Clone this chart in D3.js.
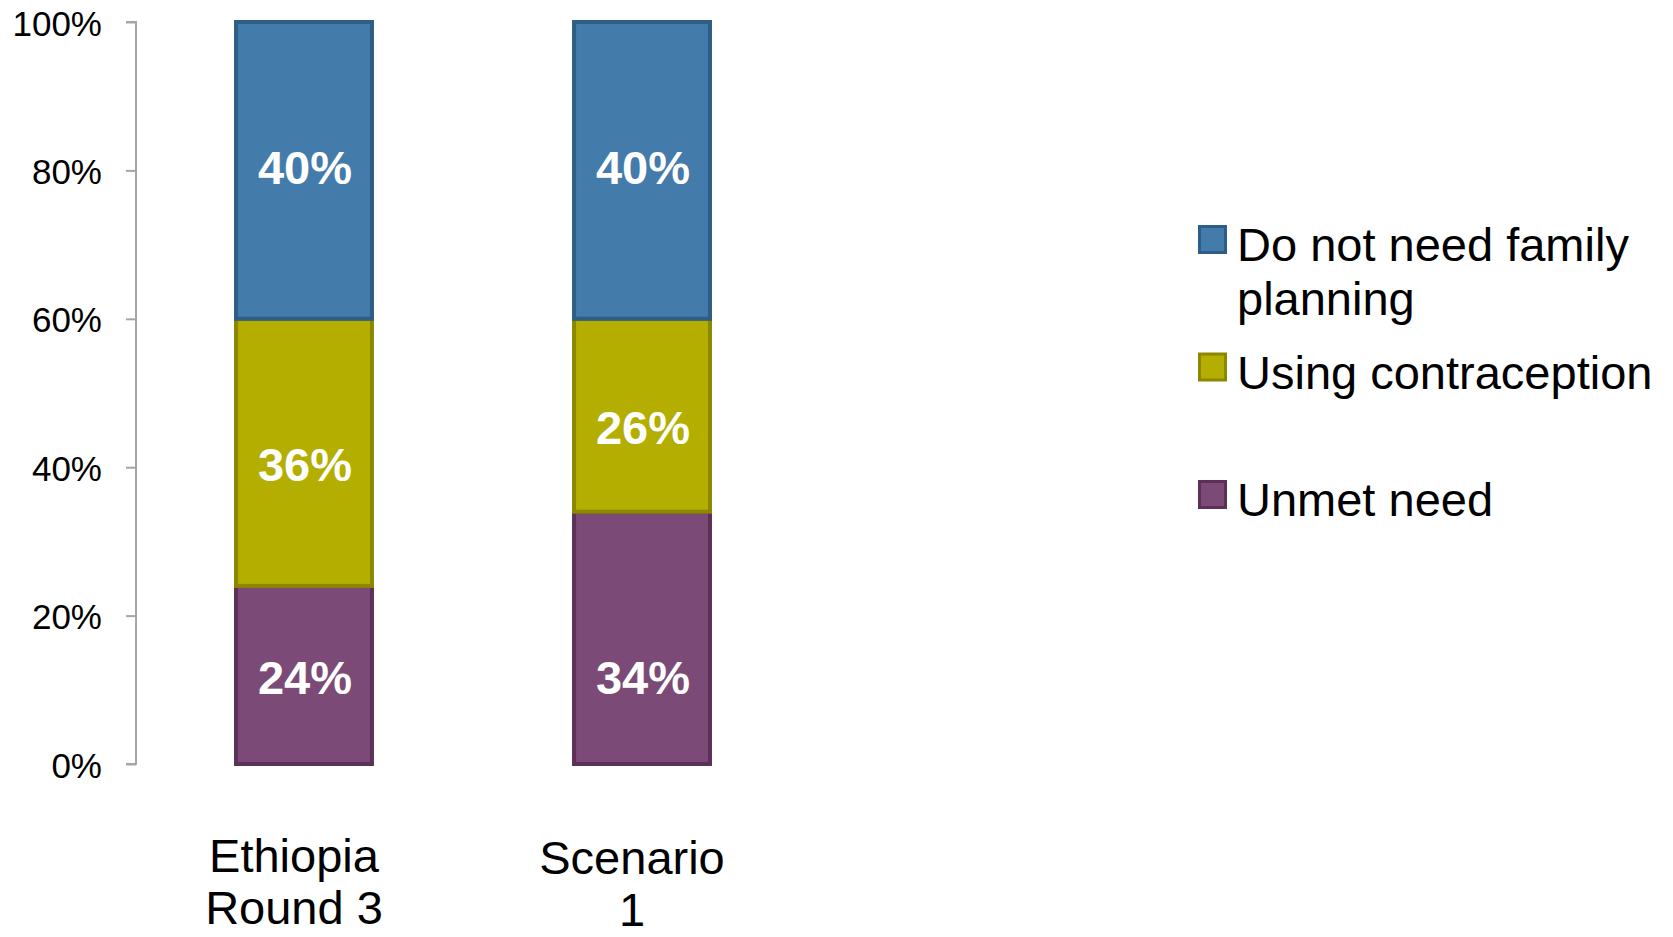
<!DOCTYPE html>
<html>
<head>
<meta charset="utf-8">
<script src="https://cdn.jsdelivr.net/npm/d3@7"></script>
<style>
  html, body { margin: 0; padding: 0; background: #fff; }
  svg { display: block; }
  text { font-family: "Liberation Sans", Arial, sans-serif; }
</style>
</head>
<body>
<svg id="chart" width="1673" height="937"></svg>
<script>
// ---- data ----
const categories = [["Ethiopia", "Round 3"], ["Scenario", "1"]];
const categoryKeys = ["Ethiopia Round 3", "Scenario 1"];
const seriesNames = ["Unmet need", "Using contraception", "Do not need family planning"];
const unmetNeed = [0.24, 0.34];
const usingContraception = [0.36, 0.26];
const doNotNeed = [0.40, 0.40];
const yTicks = [0, 0.2, 0.4, 0.6, 0.8, 1.0];
const legendOrder = ["Do not need family planning", "Using contraception", "Unmet need"];
const legendLines = [["Do not need family", "planning"], ["Using contraception"], ["Unmet need"]];

// ---- styles ----
const fills = { "Unmet need": "#7b4a77", "Using contraception": "#b3ae00", "Do not need family planning": "#437bab" };
const strokes = { "Unmet need": "#5c3057", "Using contraception": "#8c8700", "Do not need family planning": "#2e5d87" };

const svg = d3.select("#chart");

const y = d3.scaleLinear().domain([0, 1]).range([764, 22]);
const x = d3.scaleBand().domain(categoryKeys).range([136, 810]).paddingInner(0.586).paddingOuter(0.29);

// stacked data
const rows = categoryKeys.map((k, i) => ({
  key: k,
  "Unmet need": unmetNeed[i],
  "Using contraception": usingContraception[i],
  "Do not need family planning": doNotNeed[i]
}));
const stacked = d3.stack().keys(seriesNames)(rows);

// axis
const yAxis = d3.axisLeft(y).tickValues(yTicks).tickSize(10).tickFormat(d3.format(".0%"));
const ag = svg.append("g").attr("transform", "translate(136,0)").call(yAxis);
ag.select(".domain").attr("stroke", "#a6a6a6").attr("stroke-width", 2).attr("d", "M-10," + y(1) + "H0V" + y(0) + "H-10");
ag.selectAll(".tick line").attr("stroke", "#a6a6a6").attr("stroke-width", 2);
ag.selectAll(".tick text")
  .attr("x", -34).attr("dy", null).attr("y", 13)
  .attr("fill", "#000").style("font-size", "35px")
  .style("font-family", '"Liberation Sans", Arial, sans-serif');

// bars
const bw = x.bandwidth();
const layers = svg.append("g").selectAll("g").data(stacked).join("g")
  .attr("fill", d => fills[d.key]).attr("stroke", d => strokes[d.key]).attr("stroke-width", 4);
layers.selectAll("rect").data(d => d).join("rect")
  .attr("x", d => x(d.data.key) + 2)
  .attr("width", bw - 4)
  .attr("y", d => y(d[1]))
  .attr("height", d => y(d[0]) - y(d[1]));

// value labels
const capHalf = 0.716 * 47 / 2;
function labelCenter(seriesIdx, d) {
  if (seriesIdx === 0) return y(0) - 87;                       // inside base
  if (seriesIdx === 1) return (y(d[0]) + y(d[1])) / 2 + 11.5;   // lower-centre
  return (y(d[0]) + y(d[1])) / 2 - 3;                           // centre
}
stacked.forEach((s, si) => {
  svg.append("g").selectAll("text").data(s).join("text")
    .attr("x", d => x(d.data.key) + bw / 2 + 1)
    .attr("y", d => labelCenter(si, d) + capHalf)
    .attr("text-anchor", "middle")
    .attr("fill", "#fff")
    .style("font-size", "47px").style("font-weight", "bold")
    .text(d => d3.format(".0%")(d[1] - d[0]));
});

// category labels
const cg = svg.append("g");
categoryKeys.forEach((k, i) => {
  const t = cg.append("text")
    .attr("text-anchor", "middle")
    .attr("x", x(k) + bw / 2 - 10)
    .attr("y", 872 + i * 2)
    .attr("fill", "#000").style("font-size", "47px");
  categories[i].forEach((line, li) => {
    t.append("tspan").attr("x", x(k) + bw / 2 - 10).attr("dy", li === 0 ? 0 : 52).text(line);
  });
});

// legend
const lg = svg.append("g").attr("transform", "translate(1198,225)");
legendOrder.forEach((name, i) => {
  const g = lg.append("g").attr("transform", `translate(0,${i * 127.5})`);
  g.append("rect").attr("x", 1.5).attr("y", 1.5).attr("width", 26).attr("height", 26)
    .attr("fill", fills[name]).attr("stroke", strokes[name]).attr("stroke-width", 3);
  const t = g.append("text").attr("x", 39).attr("y", 36).attr("fill", "#000").style("font-size", "47px");
  legendLines[i].forEach((line, li) => {
    t.append("tspan").attr("x", 39).attr("dy", li === 0 ? 0 : 54).text(line);
  });
});
</script>
</body>
</html>
